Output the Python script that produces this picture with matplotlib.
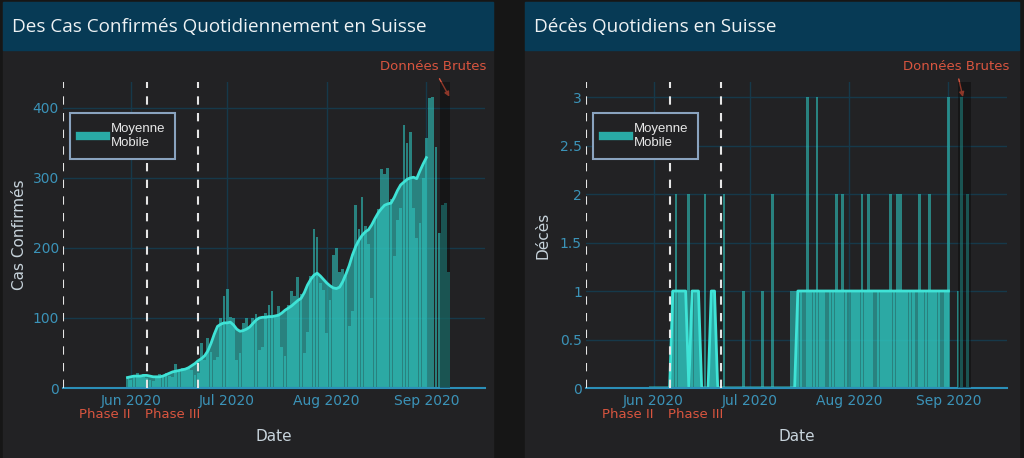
import matplotlib
matplotlib.use("Agg")
import matplotlib.pyplot as plt
import matplotlib.dates as mdates
import numpy as np
import pandas as pd
from matplotlib.patches import Rectangle
from matplotlib.lines import Line2D

# ---- data ----
start = "2020-05-31"

cases = ([15] +
         [12, 18, 22, 18, 20, 14, 12, 10, 16, 20, 19, 22, 17, 15, 34,
          24, 28, 26, 30, 25, 18, 22, 64, 40, 72, 52, 40, 44, 100, 131] +
         [141, 102, 100, 40, 50, 93, 100, 86, 100, 105, 54, 58, 107, 118, 138,
          104, 117, 59, 45, 119, 139, 132, 158, 134, 50, 80, 160, 227, 216, 150, 140] +
         [78, 125, 190, 200, 166, 170, 160, 88, 110, 261, 227, 273, 232, 206, 128,
          240, 255, 313, 305, 314, 270, 188, 240, 257, 376, 350, 366, 257, 214, 236, 300] +
         [357, 414, 416, 344, 221, 261, 264, 166])

cases_ma = ([15] +
            [16, 17, 17, 17, 18, 18, 17, 16, 16, 16, 17, 19, 21, 23, 24,
             25, 26, 27, 29, 32, 35, 39, 42, 46, 53, 64, 77, 88, 91, 93] +
            [93, 94, 90, 84, 81, 82, 84, 87, 92, 97, 100, 101, 101, 102, 102,
             103, 104, 107, 111, 114, 117, 121, 125, 128, 136, 147, 155, 161, 164, 160, 155] +
            [150, 146, 143, 142, 144, 152, 163, 175, 190, 202, 211, 218, 223, 226, 233,
             242, 250, 256, 261, 263, 264, 272, 282, 290, 294, 298, 300, 301, 299, 310, 320] +
            [329])

deaths = ([0] +
          [0, 0, 0, 0, 0, 0, 1, 2, 1, 1, 1, 2, 1, 1, 1,
           0, 2, 0, 1, 1, 0, 0, 2, 0, 0, 0, 0, 0, 1, 0] +
          [0, 0, 0, 0, 1, 0, 0, 2, 0, 0, 0, 0, 0, 1, 1,
           1, 1, 0, 3, 1, 1, 3, 1, 1, 0, 1, 1, 2, 1, 2, 1] +
          [0, 1, 1, 1, 2, 1, 2, 1, 0, 1, 1, 1, 1, 2, 1,
           2, 2, 1, 1, 1, 1, 0, 2, 1, 1, 2, 1, 1, 1, 0, 1] +
          [3, 0, 0, 1, 3, 0, 2, 0])

deaths_ma = ([0] +
             [0, 0, 0, 0, 0, 0, 1, 1, 1, 1, 1, 0, 1, 1, 1,
              0, 0, 0, 1, 1, 0, 0, 0, 0, 0, 0, 0, 0, 0, 0] +
             [0, 0, 0, 0, 0, 0, 0, 0, 0, 0, 0, 0, 0, 0, 0,
              1, 1, 1, 1, 1, 1, 1, 1, 1, 1, 1, 1, 1, 1, 1, 1] +
             [1] * 31 +
             [1])

phase_dates = ["2020-05-11", "2020-06-06", "2020-06-22"]
phase_labels = ["Phase II", "Phase III"]
month_ticks = ["2020-06-01", "2020-07-01", "2020-08-01", "2020-09-01"]
month_labels = ["Jun 2020", "Jul 2020", "Aug 2020", "Sep 2020"]

# ---- styling ----
W, H = 1024, 458
BG = "#161616"
PANEL = "#222224"
TITLE_BG = "#073a55"
TEAL = "#2fc4bd"
LINE = "#3fe3d6"
GRID = "#16394a"
TICK = "#3b93b8"
RED = "#d9553f"


def fx(x):
    return x / W


def fy(y):
    return 1 - y / H


fig = plt.figure(figsize=(W / 100, H / 100), dpi=100, facecolor=BG)


def panel(x0, x1, title):
    fig.patches.append(Rectangle((fx(x0), 0), fx(x1) - fx(x0), fy(2),
                                 transform=fig.transFigure, color=PANEL, zorder=-2))
    fig.patches.append(Rectangle((fx(x0), fy(50)), fx(x1) - fx(x0), fy(2) - fy(50),
                                 transform=fig.transFigure, color=TITLE_BG, zorder=-1))
    fig.text(fx(x0 + 9), fy(27), title, color="#eef2f4", fontsize=13.6,
             family="Open Sans", va="center", ha="left")


def draw(ax, values, ma, ylim, yticks, yticklabels, ylabel, raw_span, tip, text_pos, legend_x):
    days = mdates.date2num(pd.date_range(start, periods=len(values)))
    ma_days = mdates.date2num(pd.date_range(start, periods=len(ma)))
    ax.set_facecolor(PANEL)

    ax.bar(days, values, width=0.85, color=TEAL, alpha=0.6, linewidth=0, zorder=2)
    ax.fill_between(ma_days, ma, color=TEAL, alpha=0.6, linewidth=0, zorder=2)
    ax.plot(ma_days, ma, color=LINE, lw=2, zorder=3)

    r0, r1 = mdates.date2num(pd.to_datetime(raw_span))
    ax.axvspan(r0, r1, color="black", alpha=0.35, lw=0, zorder=4)

    pd_num = mdates.date2num(pd.to_datetime(phase_dates))
    for d in pd_num:
        ax.axvline(d, color="#e6e6e6", lw=1.5, ls=(0, (4, 4)), zorder=5)
    for i, lab in enumerate(phase_labels):
        ax.text((pd_num[i] + pd_num[i + 1]) / 2, -0.085, lab, color=RED, fontsize=9.5,
                ha="center", va="center", transform=ax.get_xaxis_transform())

    ax.axhline(0, color="#2b8fb8", lw=1.5, zorder=3, clip_on=False)
    ax.set_ylim(*ylim)
    ax.set_yticks(yticks)
    ax.set_yticklabels(yticklabels)
    ax.set_xticks(mdates.date2num(pd.to_datetime(month_ticks)))
    ax.set_xticklabels(month_labels)
    ax.set_xlim(mdates.date2num(pd.Timestamp("2020-05-10 22:00")),
                mdates.date2num(pd.Timestamp("2020-09-19 06:00")))
    ax.grid(True, color=GRID, lw=1, zorder=0)
    ax.set_axisbelow(True)
    for s in ax.spines.values():
        s.set_visible(False)
    ax.tick_params(length=0, colors=TICK, labelsize=10, pad=4)
    ax.tick_params(axis="y", pad=3)

    ax.set_xlabel("Date", color="#c7d3db", fontsize=11)
    ax.xaxis.set_label_coords(0.5, -0.16)
    ax.xaxis.label.set_va("center")
    ax.set_ylabel(ylabel, color="#c7d3db", fontsize=11)
    ax.yaxis.set_label_coords(-0.102, 0.5)
    ax.yaxis.label.set_va("center")

    tip_x = mdates.date2num(pd.Timestamp(tip[0]))
    ax.annotate("Données Brutes", xy=(tip_x, tip[1]), xytext=text_pos,
                textcoords="axes fraction", color=RED, fontsize=9.5,
                ha="center", va="center", annotation_clip=False,
                arrowprops=dict(arrowstyle="-|>", color=RED, lw=1,
                                mutation_scale=7, shrinkA=2, shrinkB=0))

    handle = Line2D([0], [0], color="#29aaa6", lw=6)
    leg = ax.legend([handle], ["Moyenne\nMobile"], loc="upper left",
                    bbox_to_anchor=(fx(legend_x), fy(113)), bbox_transform=fig.transFigure,
                    frameon=True, fancybox=False, facecolor=PANEL, edgecolor="#8aa3bf",
                    framealpha=1, labelcolor="#e8e8e8", handlelength=2.0,
                    borderpad=0.75, handletextpad=0.35, borderaxespad=0,
                    prop={"family": "Liberation Sans", "size": 9.5})
    leg.get_frame().set_linewidth(1.5)
    leg.set_zorder(6)


panel(3, 493, "Des Cas Confirmés Quotidiennement en Suisse")
panel(525, 1019, "Décès Quotidiens en Suisse")

ax1 = fig.add_axes([fx(63), fy(388), fx(485) - fx(63), fy(82) - fy(388)])
ax2 = fig.add_axes([fx(586), fy(388), fx(1007) - fx(586), fy(82) - fy(388)])

draw(ax1, cases, cases_ma, (0, 437), [0, 100, 200, 300, 400],
     ["0", "100", "200", "300", "400"], "Cas Confirmés",
     ["2020-09-05 06:00", "2020-09-08 10:00"], ("2020-09-08 04:00", 416),
     ((433 - 63) / 422, (388 - 67) / 306), 70)

draw(ax2, deaths, deaths_ma, (0, 3.155), [0, 0.5, 1, 1.5, 2, 2.5, 3],
     ["0", "0.5", "1", "1.5", "2", "2.5", "3"], "Décès",
     ["2020-09-04 00:00", "2020-09-08 00:00"], ("2020-09-05 12:00", 3.0),
     ((956 - 586) / 421, (388 - 67) / 306), 593)

fig.savefig("out.png", dpi=100, facecolor=BG)
